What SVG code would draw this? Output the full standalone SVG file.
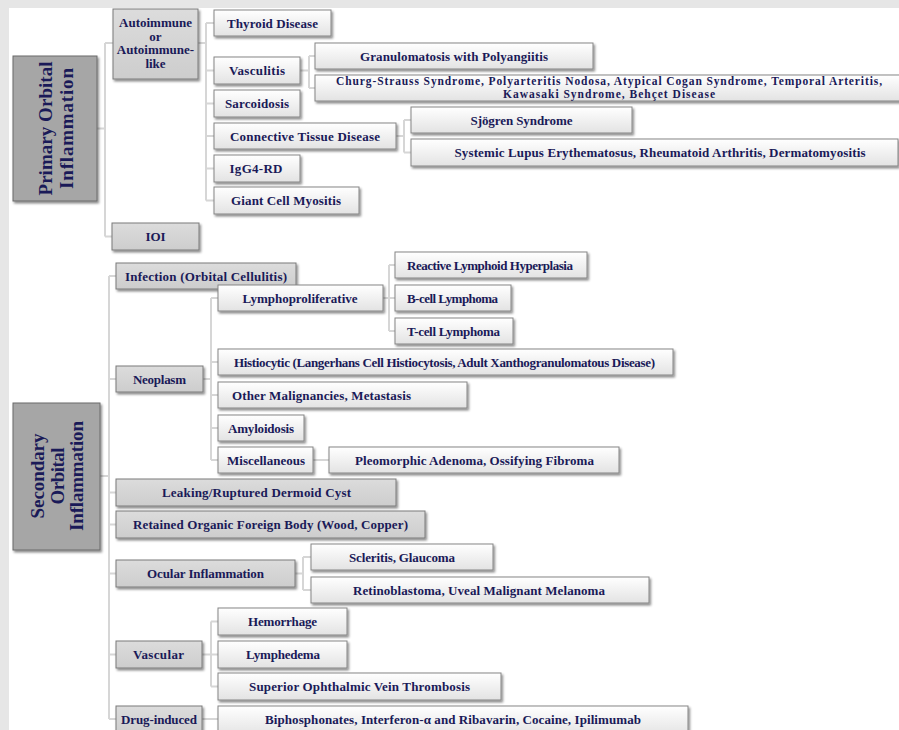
<svg xmlns="http://www.w3.org/2000/svg" width="899" height="730" viewBox="0 0 899 730">
<defs>
<linearGradient id="gw" x1="0" y1="0" x2="0" y2="1"><stop offset="0" stop-color="#ffffff"/><stop offset="1" stop-color="#e3e3e3"/></linearGradient>
<linearGradient id="gg" x1="0" y1="0" x2="0" y2="1"><stop offset="0" stop-color="#dcdcdc"/><stop offset="1" stop-color="#cdcdcd"/></linearGradient>
<filter id="sh" x="-5%" y="-20%" width="115%" height="160%"><feDropShadow dx="1.5" dy="2" stdDeviation="1" flood-color="#000" flood-opacity="0.45"/></filter>
</defs>
<style>
.w{fill:url(#gw);stroke:#858585;stroke-width:1;filter:url(#sh)}
.g{fill:url(#gg);stroke:#7a7a7a;stroke-width:1;filter:url(#sh)}
.r{fill:#a6a6a6;stroke:#6a6a6a;stroke-width:1;filter:url(#sh)}
text{font-family:"Liberation Serif","Times New Roman",serif;font-weight:bold;font-size:13px;fill:#1a1a58;text-anchor:middle}
.big{font-size:19px}
.sm{font-size:11.5px}
.c path{stroke:#d6d6d6;stroke-width:2;fill:none}
</style>
<rect x="0" y="0" width="899" height="730" fill="#e6e6e6"/>
<rect x="9" y="8" width="890" height="722" fill="#ffffff"/>

<g class="c" id="connectors">
<path d="M97,128.5H105M105,43V236.5M105,43H113M105,236.5H112"/>
<path d="M198,43H206M206,23V200.5M206,23H214M206,70.5H214M206,103.5H214M206,136H214M206,168.5H214M206,200.5H214"/>
<path d="M300,70.5H309M309,56V88M309,56H315M309,88H315"/>
<path d="M396,136H404M404,120V152.5M404,120H411M404,152.5H411"/>
<path d="M100,476H109M109,276V719M109,276H116M109,379H116M109,492.5H116M109,524.5H116M109,573.5H116M109,654.5H116M109,719H116"/>
<path d="M203,379H211M211,298V460M211,298H218M211,362H218M211,395H218M211,428H218M211,460H218"/>
<path d="M383,298H389M389,265V331M389,265H395M389,298H395M389,331H395"/>
<path d="M313,460H329"/>
<path d="M295,573.5H303M303,557V590M303,557H311M303,590H311"/>
<path d="M202,654.5H211M211,621.5V686.5M211,621.5H218M211,654.5H218M211,686.5H218"/>
<path d="M202,719H218"/>
</g>

<g id="primary"><rect class="r" x="13" y="56" width="84" height="145"/>
<text class="big" transform="translate(52,128.5) rotate(-90)" textLength="134">Primary  Orbital</text>
<text class="big" transform="translate(73,128.5) rotate(-90)" textLength="121">Inflammation</text></g>

<g id="autoimmune"><rect class="g" x="113" y="9" width="85" height="70"/>
<text x="155.5" y="27">Autoimmune</text><text x="155.5" y="40.5">or</text><text x="155.5" y="54">Autoimmune-</text><text x="155.5" y="67.5">like</text></g>
<g id="ioi"><rect class="g" x="112" y="223" width="87" height="27"/><text x="155.5" y="241">IOI</text></g>

<g id="thyroid"><rect class="w" x="214" y="10" width="117" height="26"/><text x="272.5" y="27.5" textLength="91">Thyroid  Disease</text></g>
<g id="vasculitis"><rect class="w" x="214" y="57" width="86" height="27"/><text x="257" y="75" textLength="56">Vasculitis</text></g>
<g id="sarcoidosis"><rect class="w" x="214" y="90" width="86" height="27"/><text x="257" y="108" textLength="64">Sarcoidosis</text></g>
<g id="connective"><rect class="w" x="214" y="123" width="182" height="26"/><text x="305" y="140.5" textLength="150">Connective  Tissue Disease</text></g>
<g id="igg4"><rect class="w" x="214" y="155" width="86" height="27"/><text x="256" y="173" textLength="53">IgG4-RD</text></g>
<g id="giant"><rect class="w" x="214" y="187" width="145" height="27"/><text x="286" y="205" textLength="110">Giant  Cell Myositis</text></g>
<g id="granulo"><rect class="w" x="315" y="43" width="278" height="26"/><text x="454" y="60.5" textLength="188">Granulomatosis  with  Polyangiitis</text></g>
<g id="churg"><rect class="w" x="315" y="75" width="600" height="26"/>
<text class="sm" x="609" y="84.5" textLength="546">Churg-Strauss  Syndrome,  Polyarteritis  Nodosa,  Atypical  Cogan  Syndrome,  Temporal  Arteritis,</text>
<text class="sm" x="609" y="97.5" textLength="212">Kawasaki  Syndrome,  Behçet Disease</text></g>
<g id="sjogren"><rect class="w" x="411" y="107" width="221" height="26"/><text x="521.5" y="124.5" textLength="102">Sjögren Syndrome</text></g>
<g id="systemic"><rect class="w" x="411" y="139" width="487" height="27"/><text x="660" y="157" textLength="411">Systemic  Lupus  Erythematosus,  Rheumatoid  Arthritis, Dermatomyositis</text></g>

<g id="secondary"><rect class="r" x="13" y="403" width="87" height="147"/>
<text class="big" transform="translate(44,476) rotate(-90)" textLength="85">Secondary</text>
<text class="big" transform="translate(64,476) rotate(-90)" textLength="57">Orbital</text>
<text class="big" transform="translate(83,476) rotate(-90)" textLength="110">Inflammation</text></g>

<g id="infection"><rect class="g" x="116" y="263" width="180" height="26"/><text x="206" y="280.5" textLength="162">Infection  (Orbital  Cellulitis)</text></g>
<g id="neoplasm"><rect class="g" x="116" y="366" width="87" height="26"/><text x="159.5" y="383.5" textLength="53">Neoplasm</text></g>
<g id="lympho"><rect class="w" x="218" y="285" width="165" height="26"/><text x="300" y="302.5" textLength="115">Lymphoproliferative</text></g>
<g id="reactive"><rect class="w" x="395" y="252" width="192" height="26"/><text x="490" y="269.5" textLength="166">Reactive Lymphoid  Hyperplasia</text></g>
<g id="bcell"><rect class="w" x="395" y="285" width="116" height="26"/><text x="452.5" y="302.5" textLength="91">B-cell Lymphoma</text></g>
<g id="tcell"><rect class="w" x="395" y="318" width="118" height="26"/><text x="453.5" y="335.5" textLength="93">T-cell  Lymphoma</text></g>
<g id="histio"><rect class="w" x="218" y="349" width="455" height="26"/><text x="444.5" y="366.5" textLength="421">Histiocytic  (Langerhans Cell Histiocytosis, Adult Xanthogranulomatous Disease)</text></g>
<g id="other"><rect class="w" x="218" y="382" width="249" height="26"/><text x="321.5" y="399.5" textLength="179">Other  Malignancies,  Metastasis</text></g>
<g id="amyloid"><rect class="w" x="218" y="415" width="86" height="26"/><text x="261" y="432.5" textLength="66">Amyloidosis</text></g>
<g id="misc"><rect class="w" x="218" y="447" width="95" height="26"/><text x="266" y="464.5" textLength="78">Miscellaneous</text></g>
<g id="pleo"><rect class="w" x="329" y="447" width="290" height="26"/><text x="474.5" y="464.5" textLength="239">Pleomorphic  Adenoma,  Ossifying Fibroma</text></g>
<g id="leaking"><rect class="g" x="116" y="479" width="280" height="27"/><text x="256.5" y="497" textLength="189">Leaking/Ruptured  Dermoid  Cyst</text></g>
<g id="retained"><rect class="g" x="116" y="511" width="309" height="27"/><text x="270.5" y="529" textLength="275">Retained  Organic  Foreign  Body  (Wood,  Copper)</text></g>
<g id="ocular"><rect class="g" x="116" y="560" width="179" height="27"/><text x="205.5" y="578" textLength="117">Ocular  Inflammation</text></g>
<g id="scleritis"><rect class="w" x="311" y="544" width="182" height="26"/><text x="402" y="561.5" textLength="106">Scleritis, Glaucoma</text></g>
<g id="retino"><rect class="w" x="311" y="577" width="338" height="26"/><text x="479" y="594.5" textLength="252">Retinoblastoma,  Uveal  Malignant  Melanoma</text></g>
<g id="vascular"><rect class="g" x="116" y="641" width="86" height="27"/><text x="158.5" y="659" textLength="51">Vascular</text></g>
<g id="hemorrhage"><rect class="w" x="218" y="608" width="129" height="27"/><text x="282.5" y="626" textLength="69">Hemorrhage</text></g>
<g id="lymphedema"><rect class="w" x="218" y="641" width="129" height="27"/><text x="283" y="659" textLength="74">Lymphedema</text></g>
<g id="superior"><rect class="w" x="218" y="673" width="283" height="27"/><text x="359.5" y="691" textLength="221">Superior  Ophthalmic  Vein Thrombosis</text></g>
<g id="drug"><rect class="g" x="116" y="706" width="86" height="30"/><text x="159" y="724" textLength="76">Drug-induced</text></g>
<g id="biphos"><rect class="w" x="218" y="706" width="470" height="30"/><text x="453" y="724" textLength="376">Biphosphonates,  Interferon-α  and Ribavarin,  Cocaine, Ipilimumab</text></g>
</svg>
